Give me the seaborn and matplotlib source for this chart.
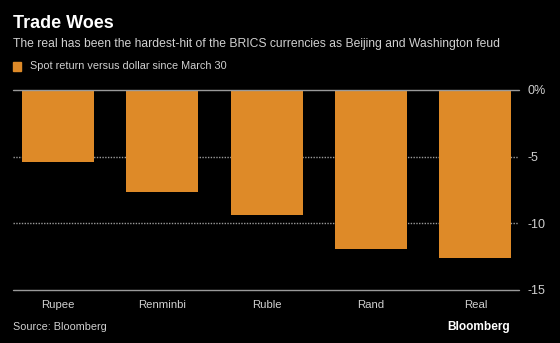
import matplotlib
matplotlib.use("Agg")
import matplotlib.pyplot as plt
import seaborn as sns
import pandas as pd

currencies = ["Rupee", "Renminbi", "Ruble", "Rand", "Real"]
returns = [-5.4, -7.65, -9.35, -11.95, -12.6]
y_ticks = [0, -5, -10, -15]
y_tick_labels = ["0%", "-5", "-10", "-15"]

title = "Trade Woes"
subtitle = "The real has been the hardest-hit of the BRICS currencies as Beijing and Washington feud"
legend_label = "Spot return versus dollar since March 30"
source = "Source: Bloomberg"

sns.set_style("dark")
FONT = ["Liberation Sans", "DejaVu Sans"]
plt.rcParams["font.family"] = FONT

BAR = "#DE8A28"
TXT = "#D0D0D0"
GRID = "#9A9A9A"

df = pd.DataFrame({"currency": currencies, "ret": returns})

fig = plt.figure(figsize=(5.6, 3.43), dpi=100, facecolor="black")
ax = fig.add_axes([13 / 560, 1 - 290 / 343, (519.3 - 13) / 560, 200 / 343])
ax.set_facecolor("black")

sns.barplot(data=df, x="currency", y="ret", color=BAR, saturation=1,
            width=0.69, ax=ax, zorder=3, linewidth=0, edgecolor="none")

ax.set_xlim(-0.43, 4.42)
ax.set_ylim(-15, 0)
ax.grid(False)
for s in ax.spines.values():
    s.set_visible(False)

for yv in [-5, -10]:
    ax.axhline(yv, color=GRID, lw=1.0, ls=(0, (1, 1)), zorder=1)
ax.axhline(0, color=GRID, lw=1.0, zorder=4, clip_on=False)
ax.axhline(-15, color=GRID, lw=1.0, zorder=4, clip_on=False)

ax.set_xlabel("")
ax.set_ylabel("")
ax.yaxis.tick_right()
ax.set_yticks(y_ticks)
ax.set_yticklabels(y_tick_labels)
ax.tick_params(axis="y", length=0, pad=6, labelsize=9, labelcolor=TXT)
ax.tick_params(axis="x", length=3, width=1, color=GRID, direction="out",
               pad=4, labelsize=8.2, labelcolor=TXT)

fig.text(13 / 560, 1 - 23 / 343, title, color="white", fontsize=13,
         fontweight="bold", va="center", ha="left")
fig.text(13 / 560, 1 - 44 / 343, subtitle, color=TXT, fontsize=8.7,
         va="center", ha="left")
fig.patches.append(plt.Rectangle((13 / 560, 1 - 71 / 343), 8 / 560, 9 / 343,
                                 transform=fig.transFigure, color=BAR,
                                 figure=fig))
fig.text(30 / 560, 1 - 66 / 343, legend_label, color=TXT, fontsize=7.8,
         va="center", ha="left")
fig.text(13 / 560, 1 - 327 / 343, source, color=TXT, fontsize=7.8,
         va="center", ha="left")
fig.text(510 / 560, 1 - 327 / 343, "Bloomberg", color="white", fontsize=8.6,
         fontweight="bold", va="center", ha="right")

fig.savefig("out.png", dpi=100, facecolor="black")
